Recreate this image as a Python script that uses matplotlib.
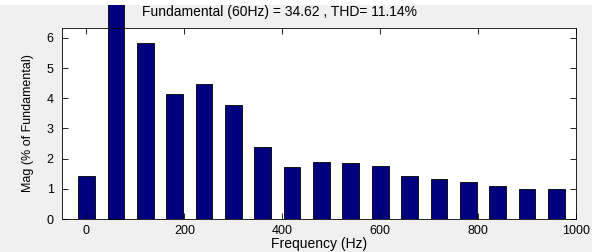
import matplotlib
matplotlib.use("Agg")
import matplotlib.pyplot as plt
from matplotlib.patches import Rectangle

# harmonic spectrum, magnitude in % of fundamental
freqs = [0, 60, 120, 180, 240, 300, 360, 420, 480, 540, 600, 660, 720, 780, 840, 900, 960]
mags = [1.42, 100.0, 5.82, 4.14, 4.48, 3.78, 2.39, 1.72, 1.88, 1.84, 1.75, 1.41, 1.32, 1.21, 1.10, 1.01, 0.99]
xticks = [0, 200, 400, 600, 800, 1000]
yticks = [0, 1, 2, 3, 4, 5, 6]
title = "Fundamental (60Hz) = 34.62 , THD= 11.14%"

plt.rcParams["font.family"] = ["Liberation Sans", "DejaVu Sans"]

fig = plt.figure(figsize=(5.92, 2.52), dpi=100, facecolor="#f0f0f0")
ax = fig.add_axes([62 / 592, 1 - 219 / 252, 514 / 592, 191 / 252])

bars = ax.bar(freqs, mags, width=34, color="#00007f", edgecolor="black", linewidth=0.6)
# the fundamental runs off the top of the axes, as in the source figure
bars[1].set_clip_on(False)

ax.set_xlim(-50, 1000)
ax.set_ylim(0, 6.33)
ax.set_xticks(xticks)
ax.set_yticks(yticks)
ax.tick_params(direction="in", length=4, width=0.6, top=True, right=True,
               labelsize=9, pad=4, colors="black")
ax.tick_params(axis="y", pad=6)
for s in ax.spines.values():
    s.set_linewidth(0.6)

ax.set_xlabel("Frequency (Hz)", fontsize=10, labelpad=0)
ax.set_ylabel("Mag (% of Fundamental)", fontsize=9, labelpad=9)
fig.text(142 / 592, 1 - 12 / 252, title, fontsize=10, ha="left", va="center")

# white strip left over from the cropped page above the figure
fig.patches.append(Rectangle((0, 1 - 5 / 252), 1, 5 / 252, transform=fig.transFigure,
                             facecolor="white", edgecolor="none", zorder=5))

fig.savefig("out.png", dpi=100, facecolor=fig.get_facecolor())
